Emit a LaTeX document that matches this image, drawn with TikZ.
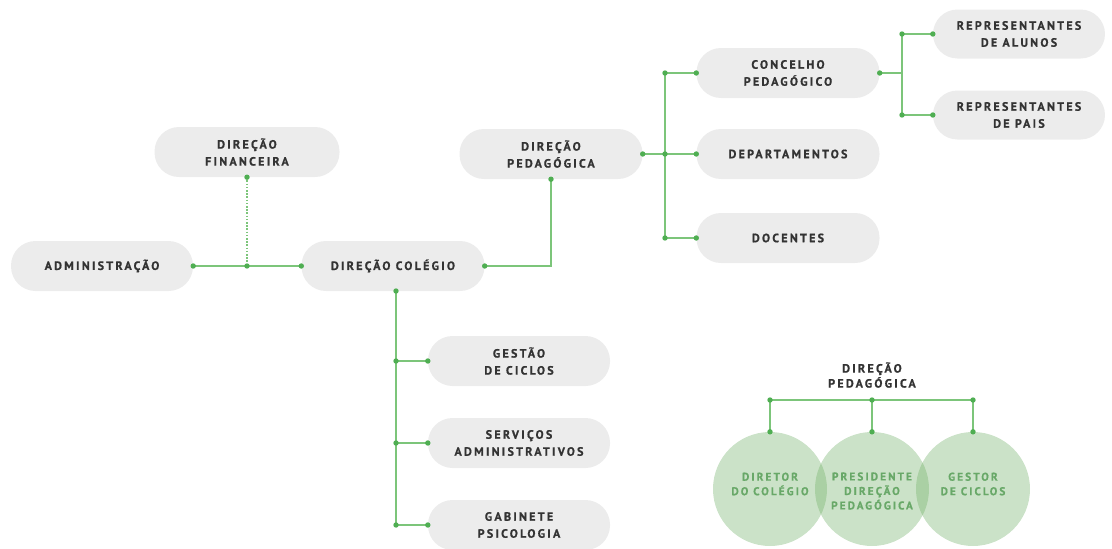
\documentclass[tikz,border=0pt]{standalone}
\usepackage{fontspec}
\newfontfamily\labelfont{PT Sans}[UprightFont=* Bold, LetterSpace=19, FakeBold=0.8]
\definecolor{pillfill}{HTML}{ECECEC}
\definecolor{pilltext}{HTML}{333333}
\definecolor{linkgreen}{HTML}{7CC57A}
\definecolor{dotgreen}{HTML}{4FAE52}
\definecolor{circlebase}{rgb}{0.42,0.68,0.38}
\definecolor{circletext}{HTML}{68A868}
\tikzset{
  pill/.style={rectangle, rounded corners=24.5pt, fill=pillfill, text=pilltext,
    minimum width=183pt, minimum height=50pt, inner sep=0pt, align=center,
    font=\labelfont\fontsize{12}{17}\selectfont},
  smallpill/.style={pill, minimum width=172pt, minimum height=49pt},
  link/.style={draw=linkgreen, line width=1.4pt},
  dotted link/.style={draw=linkgreen, line width=1.2pt, dash pattern=on 1.6pt off 1.6pt},
  member/.style={circle, minimum size=114pt, inner sep=0pt, fill=circlebase, fill opacity=0.35},
  membertext/.style={text=circletext, align=center, inner sep=0pt,
    font=\labelfont\fontsize{11.2}{14.5}\selectfont},
  title/.style={text=pilltext, align=center, inner sep=0pt,
    font=\labelfont\fontsize{12}{15}\selectfont},
}
\newcommand{\jdot}[1]{\fill[dotgreen] (#1) circle (2.7pt);}
\begin{document}
\begin{tikzpicture}[x=1pt, y=-1pt]
\useasboundingbox (0,0) rectangle (1112,549);

% top-level boxes
\node[pill, minimum width=182pt] (adm) at (102,266) {ADMINISTRAÇÃO};
\node[pill, minimum width=185pt] (fin) at (247,152) {DIREÇÃO\\FINANCEIRA};
\node[pill] (col) at (393,266) {DIREÇÃO COLÉGIO};
\node[pill] (ped) at (551,154) {DIREÇÃO\\PEDAGÓGICA};

% pedagogical branch
\node[pill] (con) at (788,73) {CONCELHO\\PEDAGÓGICO};
\node[pill] (dep) at (788,154) {DEPARTAMENTOS};
\node[pill] (doc) at (788,238) {DOCENTES};
\node[smallpill] (ral) at (1019,34) {REPRESENTANTES\\DE ALUNOS};
\node[smallpill] (rpa) at (1019,115) {REPRESENTANTES\\DE PAIS};

% school direction branch
\node[pill, minimum width=182pt] (ges) at (519,361) {GESTÃO\\DE CICLOS};
\node[pill, minimum width=182pt] (ser) at (519,443) {SERVIÇOS\\ADMINISTRATIVOS};
\node[pill, minimum width=182pt] (gab) at (519,525) {GABINETE\\PSICOLOGIA};

% junction points
\coordinate (jfin) at (fin.south |- adm.east);
\coordinate (jped) at (ped.south |- col.east);
\coordinate (jtrunk) at (665,154);
\coordinate (jcon) at (jtrunk |- con.west);
\coordinate (jdoc) at (jtrunk |- doc.west);
\coordinate (jrep) at (902,73);
\coordinate (jral) at (jrep |- ral.west);
\coordinate (jrpa) at (jrep |- rpa.west);
\coordinate (cbot) at (396,291);
\coordinate (jg1) at (cbot |- ges.west);
\coordinate (jg2) at (cbot |- ser.west);
\coordinate (jg3) at (cbot |- gab.west);

% connectors
\draw[link] (adm.east) -- (col.west);
\draw[dotted link] (fin.south) -- (jfin);
\draw[link] (col.east) -- (jped) -- (ped.south);
\draw[link] (ped.east) -- (dep.west);
\draw[link] (jcon) -- (jdoc);
\draw[link] (jcon) -- (con.west);
\draw[link] (jdoc) -- (doc.west);
\draw[link] (con.east) -- (jrep);
\draw[link] (jral) -- (jrpa);
\draw[link] (jral) -- (ral.west);
\draw[link] (jrpa) -- (rpa.west);
\draw[link] (cbot) -- (jg3);
\draw[link] (jg1) -- (ges.west);
\draw[link] (jg2) -- (ser.west);
\draw[link] (jg3) -- (gab.west);

% connector dots
\jdot{adm.east} \jdot{jfin} \jdot{col.west} \jdot{fin.south}
\jdot{col.east} \jdot{ped.south} \jdot{ped.east}
\jdot{jtrunk} \jdot{jcon} \jdot{jdoc}
\jdot{con.west} \jdot{dep.west} \jdot{doc.west}
\jdot{con.east} \jdot{jral} \jdot{jrpa} \jdot{ral.west} \jdot{rpa.west}
\jdot{cbot} \jdot{jg1} \jdot{jg2} \jdot{jg3}
\jdot{ges.west} \jdot{ser.west} \jdot{gab.west}

% composition of the pedagogical direction
\node[title] (pdt) at (872,375) {DIREÇÃO\\PEDAGÓGICA};
\node[member] (m1) at (770,489) {};
\node[member] (m2) at (872,489) {};
\node[member] (m3) at (973,489) {};
\node[membertext] (t1) at (770,484) {DIRETOR\\DO COLÉGIO};
\node[membertext] (t2) at (872,491) {PRESIDENTE\\DIREÇÃO\\PEDAGÓGICA};
\node[membertext] (t3) at (973,484) {GESTOR\\DE CICLOS};
\coordinate (b1) at (m1.north |- 0,400);
\coordinate (b2) at (m2.north |- 0,400);
\coordinate (b3) at (m3.north |- 0,400);
\draw[link] (b1) -- (b3);
\draw[link] (b1) -- (m1.north);
\draw[link] (b2) -- (m2.north);
\draw[link] (b3) -- (m3.north);
\jdot{b1} \jdot{b2} \jdot{b3}
\jdot{m1.north} \jdot{m2.north} \jdot{m3.north}
\end{tikzpicture}
\end{document}
